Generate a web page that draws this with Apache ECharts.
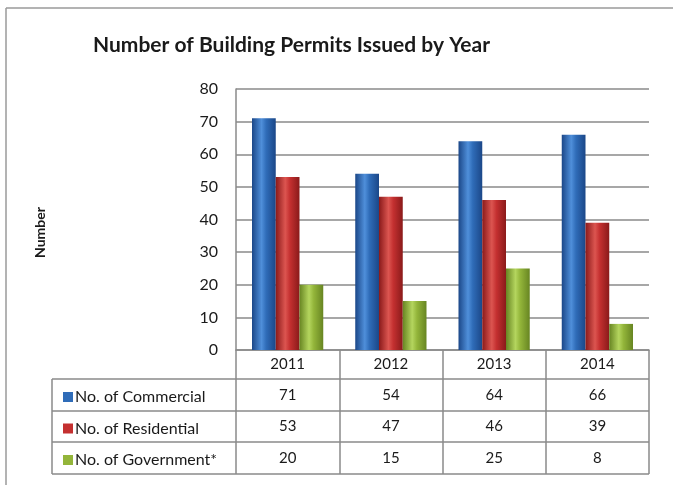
<!DOCTYPE html>
<html>
<head>
<meta charset="utf-8">
<script src="https://cdn.jsdelivr.net/npm/echarts@6/dist/echarts.min.js"></script>
<style>
  html, body { margin: 0; padding: 0; background: #fff; overflow: hidden; }
  #chart { width: 673px; height: 485px; }
</style>
</head>
<body>
<div id="chart"></div>
<script>
const years = ["2011", "2012", "2013", "2014"];
const commercial = [71, 54, 64, 66];
const residential = [53, 47, 46, 39];
const government = [20, 15, 25, 8];
const seriesNames = ["No. of Commercial", "No. of Residential", "No. of Government*"];

const chart = echarts.init(document.getElementById("chart"));
const font = "Lato, 'Open Sans', sans-serif";

// table layout (px)
const gridLeft = 236, gridRight = 649, axisY = 350;
const tableLeft = 52;
const rowLines = [379, 411, 442, 474];
const lineStyle = { stroke: "#8a8a8a", lineWidth: 1.5 };

function glass(dark, mid, light) {
  return new echarts.graphic.LinearGradient(0, 0, 1, 0, [
    { offset: 0, color: dark },
    { offset: 0.4, color: light },
    { offset: 0.6, color: mid },
    { offset: 1, color: dark }
  ]);
}

const colors = [
  glass("#1b4788", "#2f6cb8", "#4f8fda"),
  glass("#8a1a1a", "#c43030", "#dc5550"),
  glass("#678522", "#93b53a", "#b4d55e")
];
const legendColors = ["#2f6cb8", "#c43030", "#93b53a"];

function tableLabel(value, index) {
  return `{y|${value}}\n{v|${commercial[index]}}\n{v|${residential[index]}}\n{v|${government[index]}}`;
}

const lines = [];
rowLines.forEach(y => {
  lines.push({ type: "line", shape: { x1: tableLeft, y1: y, x2: gridRight, y2: y }, style: lineStyle });
});
lines.push({ type: "line", shape: { x1: tableLeft, y1: rowLines[0], x2: tableLeft, y2: rowLines[3] }, style: lineStyle });
// outer chart border (only top and left are inside the picture)
lines.push({ type: "line", shape: { x1: 6, y1: 8, x2: 673, y2: 8 }, style: { stroke: "#9a9a9a", lineWidth: 1.5 } });
lines.push({ type: "line", shape: { x1: 6, y1: 8, x2: 6, y2: 485 }, style: { stroke: "#9a9a9a", lineWidth: 1.5 } });

chart.setOption({
  animation: false,
  backgroundColor: "#fff",
  title: {
    text: "Number of Building Permits Issued by Year",
    left: 88, top: 30,
    textStyle: { fontFamily: font, fontSize: 21, fontWeight: "bold", color: "#1a1a1a" }
  },
  legend: {
    orient: "vertical",
    left: 58, top: 384,
    itemWidth: 10, itemHeight: 10, itemGap: 15.5,
    icon: "rect",
    data: seriesNames.map((n, i) => ({ name: n, itemStyle: { color: legendColors[i] } })),
    textStyle: { fontFamily: font, fontSize: 16, color: "#1a1a1a", lineHeight: 16, padding: [0, 0, 0, -3] }
  },
  grid: { left: gridLeft, right: 673 - gridRight, top: 89, bottom: 485 - axisY },
  xAxis: {
    type: "category",
    data: years,
    axisLine: { lineStyle: { color: "#8a8a8a", width: 1.5 } },
    axisTick: { show: true, length: rowLines[3] - axisY, lineStyle: { color: "#8a8a8a", width: 1.5 } },
    axisLabel: {
      margin: -1,
      interval: 0,
      formatter: tableLabel,
      rich: {
        y: { fontFamily: font, fontSize: 15, color: "#1a1a1a", lineHeight: 30 },
        v: { fontFamily: font, fontSize: 15, color: "#1a1a1a", lineHeight: 31.5 }
      }
    }
  },
  yAxis: {
    type: "value",
    min: 0, max: 80, interval: 10,
    name: "Number",
    nameLocation: "middle",
    nameRotate: 90,
    nameGap: 189,
    nameTextStyle: { fontFamily: font, fontSize: 14, fontWeight: "bold", color: "#1a1a1a", padding: [0, 26, 0, 0] },
    axisLine: { show: true, lineStyle: { color: "#8a8a8a", width: 1.5 } },
    axisTick: { show: false },
    axisLabel: { margin: 18, fontFamily: font, fontSize: 16, color: "#1a1a1a" },
    splitLine: { lineStyle: { color: "#8a8a8a", width: 1.5 } }
  },
  graphic: lines,
  series: [commercial, residential, government].map((data, i) => ({
    name: seriesNames[i],
    type: "bar",
    data: data,
    barGap: "0%",
    barCategoryGap: "31%",
    itemStyle: { color: colors[i] }
  }))
});
</script>
</body>
</html>
